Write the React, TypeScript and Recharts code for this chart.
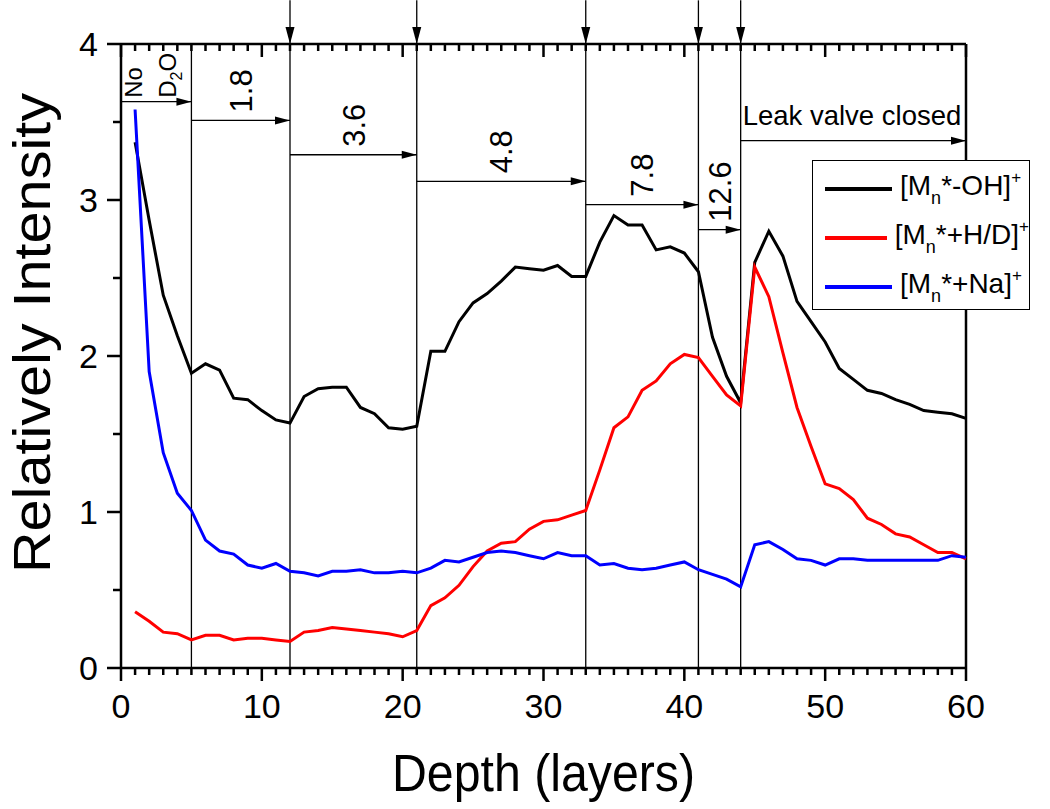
import { Label, Legend, Line, LineChart, ReferenceLine, XAxis, YAxis } from 'recharts';

const FONT = '"Liberation Sans", Arial, sans-serif';

// depth in layers
const depth = [
  1, 2, 3, 4, 5, 6, 7, 8, 9, 10, 11, 12, 13, 14, 15, 16, 17, 18, 19, 20,
  21, 22, 23, 24, 25, 26, 27, 28, 29, 30, 31, 32, 33, 34, 35, 36, 37, 38, 39, 40,
  41, 42, 43, 44, 45, 46, 47, 48, 49, 50, 51, 52, 53, 54, 55, 56, 57, 58, 59, 60,
];

// [Mn*-OH]+
const ohValues = [
  3.37, 2.87, 2.39, 2.13, 1.89, 1.95, 1.91, 1.73, 1.72, 1.65, 1.59, 1.57, 1.74, 1.79, 1.8, 1.8, 1.67, 1.63, 1.54, 1.53,
  1.55, 2.03, 2.03, 2.22, 2.34, 2.4, 2.48, 2.57, 2.56, 2.55, 2.58, 2.51, 2.51, 2.73, 2.9, 2.84, 2.84, 2.68, 2.7, 2.66,
  2.54, 2.12, 1.87, 1.7, 2.6, 2.8, 2.64, 2.35, 2.22, 2.09, 1.92, 1.85, 1.78, 1.76, 1.72, 1.69, 1.65, 1.64, 1.63, 1.6,
];

// [Mn*+H/D]+
const hdValues = [
  0.36, 0.3, 0.23, 0.22, 0.18, 0.21, 0.21, 0.18, 0.19, 0.19, 0.18, 0.17, 0.23, 0.24, 0.26, 0.25, 0.24, 0.23, 0.22, 0.2,
  0.24, 0.4, 0.45, 0.53, 0.65, 0.75, 0.8, 0.81, 0.89, 0.94, 0.95, 0.98, 1.01, 1.27, 1.54, 1.61, 1.78, 1.84, 1.95, 2.01,
  1.99, 1.87, 1.75, 1.68, 2.57, 2.38, 2.02, 1.67, 1.42, 1.18, 1.15, 1.08, 0.96, 0.92, 0.86, 0.84, 0.79, 0.74, 0.74, 0.7,
];

// [Mn*+Na]+
const naValues = [
  3.58, 1.9, 1.38, 1.12, 1.01, 0.82, 0.75, 0.73, 0.66, 0.64, 0.67, 0.62, 0.61, 0.59, 0.62, 0.62, 0.63, 0.61, 0.61, 0.62,
  0.61, 0.64, 0.69, 0.68, 0.71, 0.74, 0.75, 0.74, 0.72, 0.7, 0.74, 0.72, 0.72, 0.66, 0.67, 0.64, 0.63, 0.64, 0.66, 0.68,
  0.63, 0.6, 0.57, 0.52, 0.79, 0.81, 0.76, 0.7, 0.69, 0.66, 0.7, 0.7, 0.69, 0.69, 0.69, 0.69, 0.69, 0.69, 0.72, 0.71,
];

const xTicks = [
  0, 1, 2, 3, 4, 5, 6, 7, 8, 9, 10, 11, 12, 13, 14, 15, 16, 17, 18, 19, 20,
  21, 22, 23, 24, 25, 26, 27, 28, 29, 30, 31, 32, 33, 34, 35, 36, 37, 38, 39, 40,
  41, 42, 43, 44, 45, 46, 47, 48, 49, 50, 51, 52, 53, 54, 55, 56, 57, 58, 59, 60,
];
const xLabelTicks = [0, 10, 20, 30, 40, 50, 60];
const yTicks = [0, 0.5, 1, 1.5, 2, 2.5, 3, 3.5, 4];
const yLabelTicks = [0, 1, 2, 3, 4];

// D2O leak-valve steps (vertical dividers, arrows on top)
const dividers = [5, 12, 21, 33, 41, 44];
const topArrows = [12, 21, 33, 41, 44];

// horizontal pressure arrows: start, end, height, label
const stepFrom = [0, 5, 12, 21, 33, 41, 44];
const stepTo = [5, 12, 21, 33, 41, 44, 60];
const stepY = [3.63, 3.51, 3.29, 3.12, 2.97, 2.81, 3.38];
const stepLabels = ['', '1.8', '3.6', '4.8', '7.8', '12.6', 'Leak valve closed'];

const series = [
  { key: 'oh', color: '#000000', name: '-OH]' },
  { key: 'hd', color: '#ff0000', name: '+H/D]' },
  { key: 'na', color: '#0000ff', name: '+Na]' },
];

const data = depth.map((d, i) => ({ depth: d, oh: ohValues[i], hd: hdValues[i], na: naValues[i] }));

function arrowHead(x1: number, y1: number, x2: number, y2: number, len: number, half: number) {
  const dx = x2 - x1;
  const dy = y2 - y1;
  const l = Math.hypot(dx, dy) || 1;
  const ux = dx / l;
  const uy = dy / l;
  const bx = x2 - ux * len;
  const by = y2 - uy * len;
  return `${x2},${y2} ${bx - uy * half},${by + ux * half} ${bx + uy * half},${by - ux * half}`;
}

function ArrowShape(props: any) {
  const { x1, y1, x2, y2, label, vertical } = props;
  const midX = (x1 + x2) / 2;
  return (
    <g>
      <line x1={x1} y1={y1} x2={x2} y2={y2} stroke="#000" strokeWidth={1.3} />
      <polygon points={arrowHead(x1, y1, x2, y2, vertical ? 17 : 15, vertical ? 4.5 : 4)} fill="#000" />
      {label === 'Leak valve closed' ? (
        <text x={x1 + 2} y={y1 - 16} fontSize={27.5} fontFamily={FONT} fill="#000">
          {label}
        </text>
      ) : label ? (
        <text
          x={midX}
          y={y1 - 8}
          dy="0.36em"
          transform={`rotate(-90, ${midX}, ${y1 - 8})`}
          fontSize={31}
          fontFamily={FONT}
          fill="#000"
        >
          {label}
        </text>
      ) : null}
    </g>
  );
}

function NoD2OLabel(props: any) {
  const { x1, y1, x2 } = props;
  const w = x2 - x1;
  const ax = x1 + w * 0.18;
  const bx = x1 + w * 0.66;
  const by = y1 - 4;
  return (
    <g fontFamily={FONT} fontSize={24} fill="#000">
      <text x={ax} y={by} dy="0.36em" transform={`rotate(-90, ${ax}, ${by})`}>
        No
      </text>
      <text x={bx} y={by} dy="0.36em" transform={`rotate(-90, ${bx}, ${by})`}>
        D
        <tspan fontSize={16} dy={6}>
          2
        </tspan>
        <tspan dy={-6}>O</tspan>
      </text>
    </g>
  );
}

// x ticks: one segment from top frame to bottom axis, ticks drawn at both ends
function XTickPair(props: any) {
  const { x1, y1, y2, major } = props;
  const len = major ? 13 : 7;
  return (
    <g>
      <rect x={x1 - 1.25} y={y1} width={2.5} height={len} fill="#000" />
      <rect x={x1 - 1.25} y={y2} width={2.5} height={len} fill="#000" />
    </g>
  );
}

// y ticks pointing out of the left axis
function LeftTickShape(props: any) {
  const { x1, y1, major } = props;
  const len = major ? 14 : 8;
  return <rect x={x1 - len} y={y1 - 1.25} width={len} height={2.5} fill="#000" />;
}

function YTick(props: any) {
  const { x, y, payload } = props;
  if (!yLabelTicks.includes(payload.value)) return <g />;
  return (
    <text x={x - 23} y={y} dy="0.36em" textAnchor="end" fontSize={34} fontFamily={FONT} fill="#000">
      {payload.value}
    </text>
  );
}

function XTick(props: any) {
  const { x, y, payload } = props;
  if (!xLabelTicks.includes(payload.value)) return <g />;
  return (
    <text x={x} y={y + 50} textAnchor="middle" fontSize={34} fontFamily={FONT} fill="#000">
      {payload.value}
    </text>
  );
}

function LegendBox() {
  return (
    <div
      style={{
        width: 218,
        height: 150,
        boxSizing: 'border-box',
        border: '1.5px solid #000',
        background: '#fff',
        paddingTop: 3,
        fontFamily: FONT,
        fontSize: 28,
        color: '#000',
      }}
    >
      {series.map((s) => (
        <div key={s.key} style={{ height: 49, display: 'flex', alignItems: 'center' }}>
          <div style={{ width: 67, height: 4, background: s.color, marginLeft: 12, marginRight: 8 }} />
          <span style={{ whiteSpace: 'nowrap' }}>
            [M<span style={{ fontSize: 18, verticalAlign: -9 }}>n</span>*{s.name}
            <span style={{ fontSize: 17, verticalAlign: 12 }}>+</span>
          </span>
        </div>
      ))}
    </div>
  );
}

export default function App() {
  return (
    <div style={{ position: 'absolute', left: 0, top: 0, width: 1050, height: 809, background: '#fff' }}>
      <LineChart width={1050} height={809} data={data} margin={{ top: 44, right: 84, bottom: 101, left: 61 }}>
        <XAxis
          dataKey="depth"
          type="number"
          domain={[0, 60]}
          ticks={xTicks}
          interval={0}
          height={40}
          tickSize={0}
          tickMargin={0}
          axisLine={{ stroke: '#000', strokeWidth: 2.5 }}
          tickLine={false}
          tick={<XTick />}
        >
          <Label
            content={(p: any) => {
              const vb = p.viewBox;
              return (
                <text
                  x={vb.x + vb.width / 2}
                  y={vb.y + 123}
                  textAnchor="middle"
                  fontSize={51}
                  fontFamily={FONT}
                  textLength={303}
                  lengthAdjust="spacingAndGlyphs"
                  fill="#000"
                >
                  Depth (layers)
                </text>
              );
            }}
          />
        </XAxis>
        <YAxis
          type="number"
          domain={[0, 4]}
          ticks={yTicks}
          interval={0}
          width={60}
          tickSize={0}
          tickMargin={0}
          axisLine={{ stroke: '#000', strokeWidth: 2.5 }}
          tickLine={false}
          tick={<YTick />}
        >
          <Label
            content={(p: any) => {
              const vb = p.viewBox;
              const cx = 50;
              const cy = vb.y + vb.height / 2 - 23;
              return (
                <text
                  x={cx}
                  y={cy}
                  transform={`rotate(-90, ${cx}, ${cy})`}
                  textAnchor="middle"
                  fontSize={51}
                  fontFamily={FONT}
                  textLength={480}
                  lengthAdjust="spacingAndGlyphs"
                  fill="#000"
                >
                  Relatively Intensity
                </text>
              );
            }}
          />
        </YAxis>

        {/* frame: top and right */}
        <ReferenceLine y={4} stroke="#000" strokeWidth={2.5} />
        <ReferenceLine x={60} stroke="#000" strokeWidth={2.5} />
        {xTicks.map((t) => (
          <ReferenceLine
            key={`xt-${t}`}
            segment={[
              { x: t, y: 4 },
              { x: t, y: 0 },
            ]}
            ifOverflow="visible"
            shape={(p: any) => <XTickPair {...p} major={xLabelTicks.includes(t)} />}
          />
        ))}
        {yTicks.map((v) => (
          <ReferenceLine
            key={`yt-${v}`}
            segment={[
              { x: 0, y: v },
              { x: 60, y: v },
            ]}
            ifOverflow="visible"
            shape={(p: any) => <LeftTickShape {...p} major={yLabelTicks.includes(v)} />}
          />
        ))}

        {dividers.map((d) => (
          <ReferenceLine key={`div-${d}`} x={d} stroke="#000" strokeWidth={1.3} />
        ))}
        {topArrows.map((d) => (
          <ReferenceLine
            key={`top-${d}`}
            segment={[
              { x: d, y: 4.28 },
              { x: d, y: 4 },
            ]}
            ifOverflow="visible"
            shape={(p: any) => <ArrowShape {...p} vertical />}
          />
        ))}
        {stepFrom.map((f, i) => (
          <ReferenceLine
            key={`step-${i}`}
            segment={[
              { x: f, y: stepY[i] },
              { x: stepTo[i], y: stepY[i] },
            ]}
            ifOverflow="visible"
            shape={(p: any) =>
              i === 0 ? (
                <g>
                  <ArrowShape {...p} label="" />
                  <NoD2OLabel {...p} />
                </g>
              ) : (
                <ArrowShape {...p} label={stepLabels[i]} />
              )
            }
          />
        ))}

        {series.map((s) => (
          <Line
            key={s.key}
            dataKey={s.key}
            type="linear"
            stroke={s.color}
            strokeWidth={3}
            dot={false}
            isAnimationActive={false}
          />
        ))}
        <Legend
          layout="vertical"
          align="center"
          verticalAlign="middle"
          wrapperStyle={{ left: 812, top: 160, width: 218, height: 150 }}
          content={() => <LegendBox />}
        />
      </LineChart>
    </div>
  );
}
